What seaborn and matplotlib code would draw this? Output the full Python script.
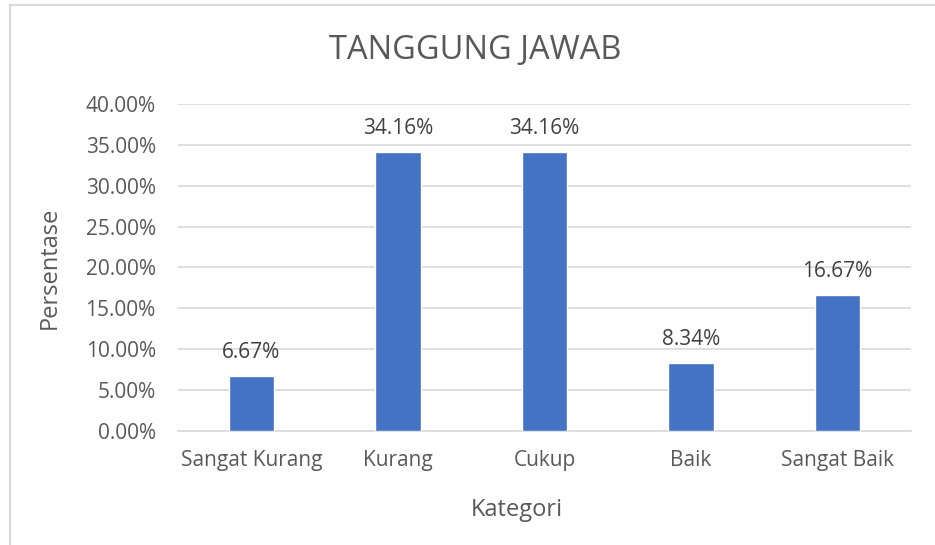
import matplotlib
matplotlib.use('Agg')
import matplotlib.pyplot as plt
import seaborn as sns
import pandas as pd
from matplotlib.patches import Rectangle
from matplotlib.ticker import FuncFormatter

# Data
categories = ['Sangat Kurang', 'Kurang', 'Cukup', 'Baik', 'Sangat Baik']
percentages = [6.67, 34.16, 34.16, 8.34, 16.67]

sns.set_style('white')
plt.rcParams['font.family'] = ['Open Sans', 'DejaVu Sans']
text_color = '#595959'
grid_color = '#d9d9d9'

df = pd.DataFrame({'Kategori': categories, 'Persentase': percentages})

fig = plt.figure(figsize=(9.35, 5.45), dpi=100)
ax = fig.add_axes([0.1904, 0.2092, 0.7839, 0.6000])

sns.barplot(data=df, x='Kategori', y='Persentase', color='#4472C4',
            width=0.31, saturation=1, ax=ax, zorder=3)

ax.set_ylim(0, 40)
ax.set_yticks(range(0, 41, 5))
ax.yaxis.set_major_formatter(FuncFormatter(lambda v, p: f'{v:.2f}%'))
ax.grid(axis='y', color=grid_color, linewidth=1.2, zorder=0)
ax.set_xlim(-0.5, len(categories) - 0.5)
for s in ['top', 'right', 'left']:
    ax.spines[s].set_visible(False)
ax.spines['bottom'].set_color(grid_color)
ax.spines['bottom'].set_linewidth(1.2)
ax.tick_params(axis='both', length=0, labelsize=15, colors=text_color)
ax.tick_params(axis='y', pad=16)
ax.tick_params(axis='x', pad=14)

for i, v in enumerate(percentages):
    ax.text(i, v + 1.6, f'{v:.2f}%', ha='center', va='bottom',
            fontsize=15, color='#404040')

ax.set_xlabel('Kategori', fontsize=17, color=text_color)
ax.xaxis.set_label_coords(0.4625, -0.205)
ax.set_ylabel('Persentase', fontsize=17, color=text_color, labelpad=17)
fig.text(0.508, 0.908, 'TANGGUNG JAWAB', ha='center', va='center',
         fontsize=23.5, color=text_color)

# chart border
fig.patches.append(Rectangle((10 / 935, -0.05), 1.2, 1.05 - 5 / 545,
                             transform=fig.transFigure, fill=False,
                             edgecolor=grid_color, linewidth=1.5))

plt.savefig('out.png', dpi=100)
